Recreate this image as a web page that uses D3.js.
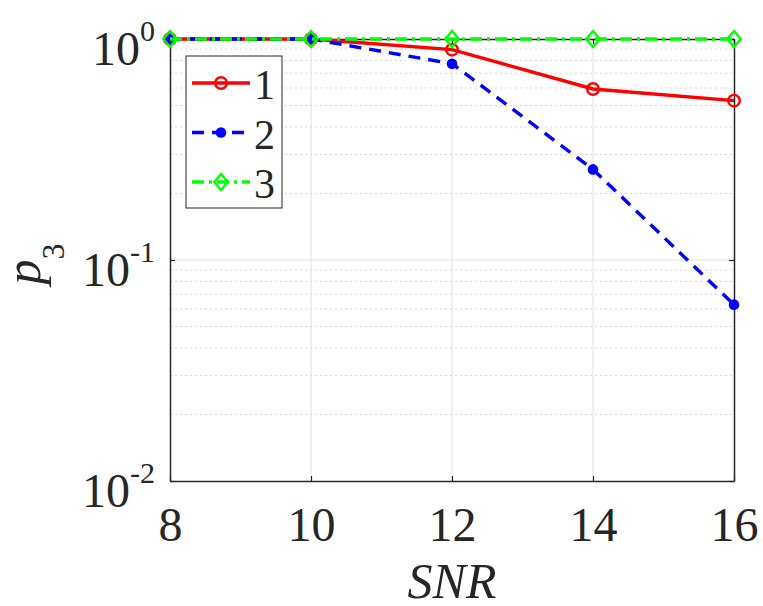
<!DOCTYPE html>
<html><head><meta charset="utf-8">
<script src="https://cdn.jsdelivr.net/npm/d3@7"></script>
<style>body{margin:0;background:#fff}svg{display:block}</style>
</head><body>
<svg id="c" width="763" height="606"></svg>
<script>
const snr = [8, 10, 12, 14, 16];
const series1 = [1, 1, 0.895, 0.594, 0.526];
const series2 = [1, 1, 0.773, 0.257, 0.0628];
const series3 = [1, 1, 1, 1, 1];
const seriesNames = ["1", "2", "3"];
const xTicks = [8, 10, 12, 14, 16];
const yTicks = [0.01, 0.1, 1];
const yTickExp = ["-2", "-1", "0"];

const FF = '"Liberation Serif"';
const svg = d3.select("#c");
const L = 170, R = 734, T = 39, B = 481;
const x = d3.scaleLinear().domain([8, 16]).range([L, R]);
const y = d3.scaleLog().domain([0.01, 1]).range([B, T]);
const axisCol = "#262626";

// grid
const g = svg.append("g");
const minors = [];
[0.01, 0.1].forEach(d => { for (let k = 2; k <= 9; k++) minors.push(d * k); });
g.selectAll(".mn").data(minors).enter().append("line")
  .attr("x1", L).attr("x2", R).attr("y1", d => y(d)).attr("y2", d => y(d))
  .attr("stroke", "#d6d6d6").attr("stroke-width", 1).attr("stroke-dasharray", "2,3");
g.selectAll(".mj").data([0.1]).enter().append("line")
  .attr("x1", L).attr("x2", R).attr("y1", d => y(d)).attr("y2", d => y(d))
  .attr("stroke", "#e0e0e0").attr("stroke-width", 1);
g.selectAll(".vx").data([10, 12, 14]).enter().append("line")
  .attr("x1", d => x(d)).attr("x2", d => x(d)).attr("y1", T).attr("y2", B)
  .attr("stroke", "#e0e0e0").attr("stroke-width", 1);

// axes
function styleAxis(sel) {
  sel.attr("font-family", null);
  sel.select(".domain").attr("stroke", axisCol).attr("stroke-width", 1.5);
  sel.selectAll(".tick line").attr("stroke", axisCol).attr("stroke-width", 1.2);
}
const xb = svg.append("g").attr("transform", `translate(0,${B})`)
  .call(d3.axisBottom(x).tickValues(xTicks).tickSizeInner(-5).tickSizeOuter(0).tickFormat(d3.format("d")));
styleAxis(xb);
xb.selectAll(".tick text").attr("y", 60).attr("dy", 0)
  .style("font-family", FF).style("font-size", "48px").attr("fill", axisCol);
const xt = svg.append("g").attr("transform", `translate(0,${T})`)
  .call(d3.axisTop(x).tickValues(xTicks).tickSizeInner(-5).tickSizeOuter(0).tickFormat(""));
styleAxis(xt);
const yl = svg.append("g").attr("transform", `translate(${L},0)`)
  .call(d3.axisLeft(y).tickValues(yTicks).tickSizeInner(-5).tickSizeOuter(0).tickFormat(""));
styleAxis(yl);
yl.selectAll(".tick text").each(function(d) {
  const t = d3.select(this).attr("x", -15).attr("dy", 25).attr("text-anchor", "end")
    .style("font-family", FF).style("font-size", "48px").attr("fill", axisCol);
  t.text(null);
  t.append("tspan").text("10");
  t.append("tspan").attr("dy", -24).style("font-size", "30px").text(yTickExp[yTicks.indexOf(d)]);
});
const yr = svg.append("g").attr("transform", `translate(${R},0)`)
  .call(d3.axisRight(y).tickValues(yTicks).tickSizeInner(-5).tickSizeOuter(0).tickFormat(""));
styleAxis(yr);

// series
const styles = [
  {data: series1, color: "#ff0000", dash: null, marker: "circle"},
  {data: series2, color: "#0000ff", dash: "12,8", marker: "dot"},
  {data: series3, color: "#00ff00", dash: "12,5,3,5", marker: "diamond"}
];
const line = d3.line().x(d => x(d[0])).y(d => y(d[1]));
function drawMarker(sel, type, color) {
  if (type === "circle") sel.append("circle").attr("r", 5.8).attr("fill", "none").attr("stroke", color).attr("stroke-width", 2.4);
  else if (type === "dot") sel.append("circle").attr("r", 5.3).attr("fill", color);
  else sel.append("path").attr("d", "M0,-8L6.8,0L0,8L-6.8,0Z").attr("fill", "none").attr("stroke", color).attr("stroke-width", 2.4);
}
styles.forEach(s => {
  const pts = snr.map((v, i) => [v, s.data[i]]);
  svg.append("path").datum(pts).attr("d", line).attr("fill", "none")
    .attr("stroke", s.color).attr("stroke-width", 3.4)
    .attr("stroke-dasharray", s.dash);
  pts.forEach(p => {
    const m = svg.append("g").attr("transform", `translate(${x(p[0])},${y(p[1])})`);
    drawMarker(m, s.marker, s.color);
  });
});

// legend
const lg = svg.append("g");
lg.append("rect").attr("x", 186).attr("y", 56).attr("width", 96).attr("height", 152)
  .attr("fill", "#fff").attr("stroke", axisCol).attr("stroke-width", 1);
styles.forEach((s, i) => {
  const cy = 83 + i * 49.5;
  lg.append("line").attr("x1", 192).attr("x2", 250).attr("y1", cy).attr("y2", cy)
    .attr("stroke", s.color).attr("stroke-width", 3.4).attr("stroke-dasharray", s.dash);
  const m = lg.append("g").attr("transform", `translate(221,${cy})`);
  drawMarker(m, s.marker, s.color);
  lg.append("text").attr("x", 254).attr("y", cy + 16)
    .style("font-family", FF).style("font-size", "42px").attr("fill", axisCol).text(seriesNames[i]);
});

// axis labels
svg.append("text").attr("x", (L + R) / 2).attr("y", 598).attr("text-anchor", "middle")
  .style("font-family", FF).style("font-style", "italic").style("font-size", "50px")
  .attr("fill", axisCol).text("SNR");
const yt = svg.append("text").attr("transform", `translate(40,264) rotate(-90)`)
  .attr("text-anchor", "middle").style("font-family", FF).style("font-style", "italic")
  .style("font-size", "50px").attr("fill", axisCol);
yt.append("tspan").text("p");
yt.append("tspan").attr("dy", 24).style("font-size", "32px").style("font-style", "normal").text("3");
</script>
</body></html>
